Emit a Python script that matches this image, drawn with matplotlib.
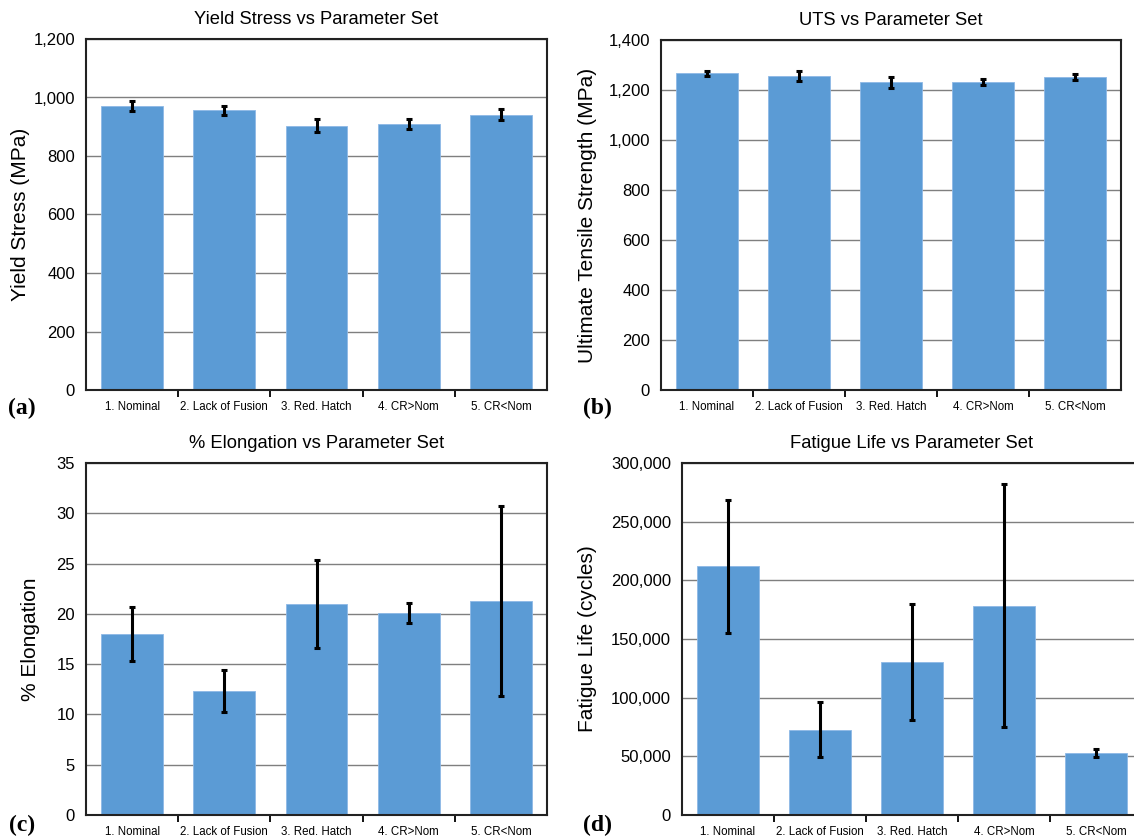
import matplotlib
matplotlib.use("Agg")
import matplotlib.pyplot as plt
from matplotlib.ticker import FuncFormatter, FixedLocator
import numpy as np

categories = ["1. Nominal", "2. Lack of Fusion", "3. Red. Hatch", "4. CR>Nom", "5. CR<Nom"]

yield_stress = [972, 956, 904, 909, 941]
yield_err = [17, 16, 22, 17, 18]

uts = [1267, 1256, 1231, 1234, 1252]
uts_err = [10, 19, 21, 12, 11]

elongation = [18.0, 12.3, 21.0, 20.1, 21.3]
elongation_err = [2.65, 2.1, 4.35, 1.0, 9.45]

fatigue = [211800, 72800, 130300, 178500, 53100]
fatigue_err = [57000, 23700, 49300, 103500, 3300]

plt.rcParams['font.family'] = ['Liberation Sans', 'DejaVu Sans']

fig = plt.figure(figsize=(11.34, 8.4), dpi=100)

W, H = 1134, 840

def make_ax(left, top, right, bottom):
    return fig.add_axes([left / W, 1 - bottom / H, (right - left) / W, (bottom - top) / H])

panels = [
    dict(box=(86, 39, 547, 390), vals=yield_stress, err=yield_err, ymax=1200, step=200,
         title="Yield Stress vs Parameter Set", ylabel="Yield Stress (MPa)", lx=-0.121,
         letter="(a)", lpos=(22, 408)),
    dict(box=(661, 40, 1121, 390), vals=uts, err=uts_err, ymax=1400, step=200,
         title="UTS vs Parameter Set", ylabel="Ultimate Tensile Strength (MPa)", lx=-0.139,
         letter="(b)", lpos=(597, 408)),
    dict(box=(86, 463, 547, 815), vals=elongation, err=elongation_err, ymax=35, step=5,
         title="% Elongation vs Parameter Set", ylabel="% Elongation", lx=-0.1,
         letter="(c)", lpos=(22, 825)),
    dict(box=(682, 463, 1142, 815), vals=fatigue, err=fatigue_err, ymax=300000, step=50000,
         title="Fatigue Life vs Parameter Set", ylabel="Fatigue Life (cycles)", lx=-0.185,
         letter="(d)", lpos=(598, 825)),
]

x = np.arange(len(categories))
for p in panels:
    ax = make_ax(*p["box"])
    ax.set_axisbelow(True)
    ax.bar(x, p["vals"], width=0.67, color="#5B9BD5", edgecolor="#8DB8E6", linewidth=0.6, zorder=2)
    ax.errorbar(x, p["vals"], yerr=p["err"], fmt="none", ecolor="black", elinewidth=2.2,
                capsize=2.5, capthick=2.2, zorder=3)
    ax.set_xlim(-0.5, len(categories) - 0.5)
    ax.set_ylim(0, p["ymax"])
    ax.set_yticks(np.arange(0, p["ymax"] + p["step"] / 2, p["step"]))
    ax.yaxis.set_major_formatter(FuncFormatter(lambda v, pos: f"{int(round(v)):,}"))
    ax.yaxis.grid(True, color="#7f7f7f", linewidth=1.0)
    ax.set_xticks(x)
    ax.set_xticklabels(categories, fontsize=8.3)
    ax.tick_params(axis="x", which="major", length=0, pad=8)
    ax.xaxis.set_minor_locator(FixedLocator(np.arange(0.5, len(categories) - 0.5, 1.0)))
    ax.tick_params(axis="x", which="minor", length=5, width=1.3, direction="out", color="black")
    ax.tick_params(axis="y", length=0, labelsize=12, pad=8)
    for s in ax.spines.values():
        s.set_linewidth(1.5)
        s.set_color("#222222")
    ax.set_title(p["title"], fontsize=13.2, pad=11)
    ax.set_ylabel(p["ylabel"], fontsize=15)
    ax.yaxis.set_label_coords(p["lx"], 0.5)
    lxp, lyp = p["lpos"]
    fig.text(lxp / W, 1 - lyp / H, p["letter"], fontsize=17, fontweight="bold",
             family=["Liberation Serif", "DejaVu Serif"], ha="center", va="center")

fig.savefig("out.png", dpi=100)
